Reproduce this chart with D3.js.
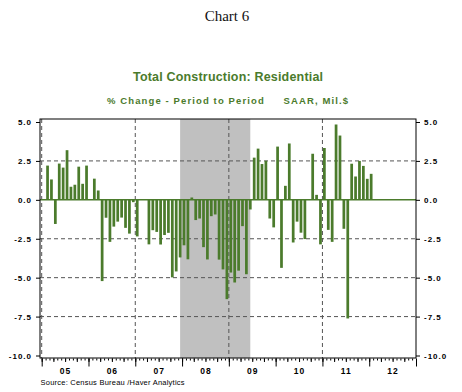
<!DOCTYPE html>
<html>
<head>
<meta charset="utf-8">
<script src="https://cdn.jsdelivr.net/npm/d3@7"></script>
<style>
  html, body { margin: 0; padding: 0; background: #fff; }
  svg { display: block; }
</style>
</head>
<body>
<svg id="chart" width="462" height="392"></svg>
<script>
// Residential construction, % change period to period (SAAR, Mil.$)
const firstMonth = "2005-02";
const pctChange = [
    // 2005 (Feb-Dec)
    2.2, 1.31, -1.55, 2.33, 2.07, 3.19, 0.84, 0.97, 2.13, 1.03, 2.2,
    // 2006
    0.0, 1.36, 0.6, -5.22, -1.15, -2.7, -1.72, -1.4, -1.14, -1.8, -2.17, -0.15,
    // 2007
    -2.35, 0.0, 0.0, -2.86, -1.95, -2.06, -2.87, -2.26, -2.12, -4.98, -4.6, -3.7,
    // 2008
    -2.92, -3.82, 0.15, -1.3, -1.2, -3.04, -3.83, -1.05, -0.94, -3.84, -4.47, -6.38,
    // 2009
    -4.67, -5.31, -4.55, -1.69, -4.78, -0.62, 2.71, 3.29, 2.3, 2.51, -1.2, -1.77,
    // 2010
    3.42, -4.37, 0.9, 3.62, -2.74, -1.4, -2.11, -2.52, 0.0, 2.96, 0.32, -2.86,
    // 2011
    3.33, -1.93, -2.7, 4.84, 4.13, -1.86, -7.62, 2.32, 1.5, 2.5, 2.18, 1.35,
    // 2012
    1.67
];
const yearLabels = ["05", "06", "07", "08", "09", "10", "11", "12"];
const yTicks = [5, 2.5, 0, -2.5, -5, -7.5, -10];
const gridValues = [2.5, -2.5, -5, -7.5];
const gridYears = [2005, 2007, 2009, 2011];
const recession = ["2007-12", "2009-06"];

const green = '#4b7b2c';
const svg = d3.select('#chart');

const parseMonth = d3.timeParse('%Y-%m');
const decYear = d => d.getFullYear() + d.getMonth() / 12;
const start = parseMonth(firstMonth);
const months = d3.timeMonth.range(start, d3.timeMonth.offset(start, pctChange.length));

// frame
const frame = { left: 40, right: 416, top: 119, bottom: 358 };

const x = d3.scaleLinear().domain([2005, 2013]).range([41.7, 416]);
const y = d3.scaleLinear().domain([-10, 5]).range([355.5, 122]);
const monthW = x(2005 + 1 / 12) - x(2005);
const barW = monthW * 0.7;

const fmt = d3.formatLocale({ decimal: '.', thousands: ',', grouping: [3], currency: ['$', ''], minus: '-' }).format('.1f');

// titles
svg.append('text')
    .attr('x', 227)
    .attr('y', 21)
    .attr('text-anchor', 'middle')
    .attr('font-family', '"Liberation Serif", "Times New Roman", serif')
    .attr('font-size', '15px')
    .attr('fill', '#111')
    .text('Chart 6');

svg.append('text')
    .attr('x', 228)
    .attr('y', 81)
    .attr('text-anchor', 'middle')
    .attr('font-family', '"Liberation Sans", Arial, sans-serif')
    .attr('font-weight', 'bold')
    .attr('font-size', '12.5px')
    .attr('fill', green)
    .attr('textLength', 190)
    .attr('lengthAdjust', 'spacing')
    .text('Total Construction: Residential');

svg.append('text')
    .attr('x', 227.5)
    .attr('y', 103.5)
    .attr('text-anchor', 'middle')
    .attr('font-family', '"Liberation Sans", Arial, sans-serif')
    .attr('font-weight', 'bold')
    .attr('font-size', '9.5px')
    .attr('fill', green)
    .attr('textLength', 241)
    .attr('lengthAdjust', 'spacing')
    .style('white-space', 'pre')
    .text('% Change - Period to Period     SAAR, Mil.$');

// recession shading
const recX = recession.map(s => x(decYear(parseMonth(s)) + 0.5 / 12));
svg.append('rect')
    .attr('x', recX[0])
    .attr('y', frame.top)
    .attr('width', recX[1] - recX[0])
    .attr('height', frame.bottom - frame.top)
    .attr('fill', '#c0c0c0');

// gridlines
svg.append('g')
    .selectAll('line')
    .data(gridValues)
    .join('line')
    .attr('x1', frame.left)
    .attr('x2', frame.right)
    .attr('y1', d => y(d))
    .attr('y2', d => y(d))
    .attr('stroke', '#555')
    .attr('stroke-width', 1)
    .attr('stroke-dasharray', '4,3');

svg.append('g')
    .selectAll('line')
    .data(gridYears)
    .join('line')
    .attr('x1', d => x(d))
    .attr('x2', d => x(d))
    .attr('y1', frame.top)
    .attr('y2', frame.bottom)
    .attr('stroke', '#555')
    .attr('stroke-width', 1)
    .attr('stroke-dasharray', '4,3');

// bars
svg.append('g')
    .selectAll('rect')
    .data(pctChange)
    .join('rect')
    .attr('x', (d, i) => x(decYear(months[i]) + 0.5 / 12) - barW / 2)
    .attr('y', d => y(Math.max(0, d)))
    .attr('width', barW)
    .attr('height', d => Math.abs(y(d) - y(0)))
    .attr('fill', green);

// zero line
svg.append('line')
    .attr('x1', frame.left)
    .attr('x2', frame.right)
    .attr('y1', y(0))
    .attr('y2', y(0))
    .attr('stroke', green)
    .attr('stroke-width', 1.5);

// frame
svg.append('rect')
    .attr('x', frame.left)
    .attr('y', frame.top)
    .attr('width', frame.right - frame.left)
    .attr('height', frame.bottom - frame.top)
    .attr('fill', 'none')
    .attr('stroke', '#000')
    .attr('stroke-width', 1);

// y axes
const styleAxis = g => {
    g.select('.domain').remove();
    g.selectAll('.tick line').attr('stroke', '#000');
    g.selectAll('.tick text')
        .attr('font-family', '"Liberation Sans", Arial, sans-serif')
        .attr('font-weight', 'bold')
        .attr('font-size', '8px')
        .attr('letter-spacing', '1px')
        .attr('fill', '#000');
};

svg.append('g')
    .attr('transform', `translate(${frame.left},0)`)
    .call(d3.axisLeft(y).tickValues(yTicks).tickSize(4).tickPadding(4).tickFormat(fmt))
    .call(styleAxis);

svg.append('g')
    .attr('transform', `translate(${frame.right},0)`)
    .call(d3.axisRight(y).tickValues(yTicks).tickSize(4).tickPadding(4).tickFormat(fmt))
    .call(styleAxis)
    .call(g => g.selectAll('.tick text').attr('text-anchor', 'start'));

// x axis: month, quarter and year ticks
const allMonths = d3.range(0, 96).map(i => 2005 + i / 12);
const quarters = allMonths.filter((d, i) => i % 3 === 0);
const years = d3.range(2005, 2014);

[[allMonths, 2], [quarters, 3.5], [years, 8]].forEach(([vals, size]) => {
    svg.append('g')
        .attr('transform', `translate(0,${frame.bottom + 0.5})`)
        .call(d3.axisBottom(x).tickValues(vals).tickSize(size).tickFormat(''))
        .call(g => g.select('.domain').remove())
        .call(g => g.selectAll('.tick line').attr('stroke', '#000'));
});

svg.append('g')
    .attr('transform', `translate(0,${frame.bottom})`)
    .call(d3.axisBottom(x).tickValues(yearLabels.map((d, i) => 2005.5 + i)).tickSize(0).tickPadding(10)
        .tickFormat((d, i) => yearLabels[i]))
    .call(g => g.select('.domain').remove())
    .call(g => g.selectAll('.tick text')
        .attr('font-family', '"Liberation Sans", Arial, sans-serif')
        .attr('font-weight', 'bold')
        .attr('font-size', '8.5px')
        .attr('letter-spacing', '1px')
        .attr('fill', '#000'));

// source
svg.append('text')
    .attr('x', 40.5)
    .attr('y', 385)
    .attr('font-family', '"Liberation Sans", Arial, sans-serif')
    .attr('font-size', '7.5px')
    .attr('fill', '#000')
    .attr('textLength', 144)
    .attr('lengthAdjust', 'spacing')
    .text('Source:  Census Bureau /Haver Analytics');
</script>
</body>
</html>
